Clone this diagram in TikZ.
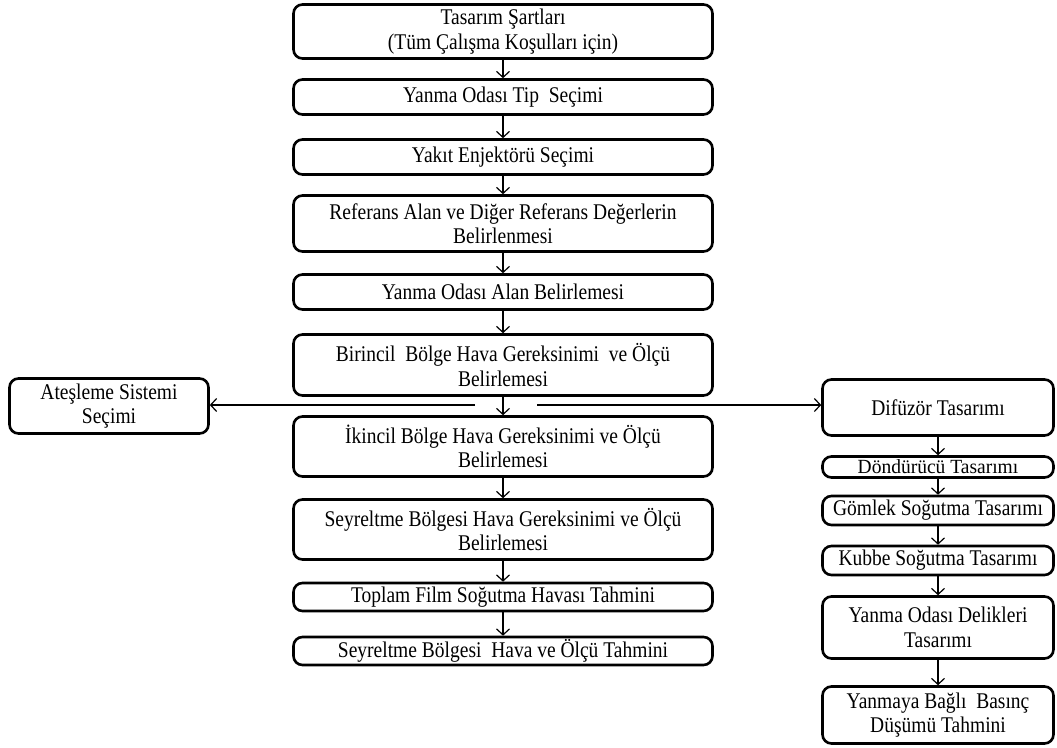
\documentclass[tikz,border=0pt]{standalone}
\usepackage{fontspec}
\setmainfont{Liberation Serif}
\usetikzlibrary{arrows.meta}
\newcommand\vs[1]{\scalebox{1}[1.15]{#1}}
\begin{document}
\begin{tikzpicture}[x=1pt,y=-1pt,
  box/.style={draw, line width=2.6pt, rounded corners=9pt, inner sep=0pt, align=center,
    font=\fontsize{19.5}{24.5}\selectfont},
  arr/.style={line width=1.2pt, -{Straight Barb[length=6pt,width=13pt,line width=1.2pt]}}]
\useasboundingbox (0,0) rectangle (1057,747);
% main column
\node[box, minimum width=419pt, minimum height=54pt] (n1) at (503,31.5) {\vs{Tasarım Şartları}\\\vs{(Tüm Çalışma Koşulları için)}};
\node[box, minimum width=419pt, minimum height=35pt] (n2) at (503,97) {\vs{Yanma Odası Tip\ \ Seçimi}};
\node[box, minimum width=419pt, minimum height=35pt] (n3) at (503,157) {\vs{Yakıt Enjektörü Seçimi}};
\node[box, minimum width=419pt, minimum height=56pt] (n4) at (503,223.5) {\vs{Referans Alan ve Diğer Referans Değerlerin}\\\vs{Belirlenmesi}};
\node[box, minimum width=419pt, minimum height=35pt] (n5) at (503,292) {\vs{Yanma Odası Alan Belirlemesi}};
\node[box, minimum width=419pt, minimum height=61pt] (n6) at (503,365) {\vs{Birincil\ \ Bölge Hava Gereksinimi\ \ ve Ölçü}\\\vs{Belirlemesi}};
\node[box, minimum width=419pt, minimum height=60pt] (n7) at (503,446.5) {\vs{İkincil Bölge Hava Gereksinimi ve Ölçü}\\\vs{Belirlemesi}};
\node[box, minimum width=419pt, minimum height=60pt] (n8) at (503,529.5) {\vs{Seyreltme Bölgesi Hava Gereksinimi ve Ölçü}\\\vs{Belirlemesi}};
\node[box, minimum width=419pt, minimum height=28pt] (n9) at (503,597) {\vs{Toplam Film Soğutma Havası Tahmini}};
\node[box, minimum width=419pt, minimum height=28pt] (n10) at (503,651) {\vs{Seyreltme Bölgesi\ \ Hava ve Ölçü Tahmini}};
% left
\node[box, minimum width=199pt, minimum height=55pt] (ign) at (109,406) {\vs{Ateşleme Sistemi}\\\vs{Seçimi}};
% right column
\node[box, minimum width=231pt, minimum height=56pt] (r1) at (938,407.5) {\vs{Difüzör Tasarımı}};
\node[box, minimum width=231pt, minimum height=21pt] (r2) at (938,467) {\scalebox{1}[1.03]{Döndürücü Tasarımı}};
\node[box, minimum width=231pt, minimum height=29pt] (r3) at (938,510.5) {\vs{Gömlek\ Soğutma Tasarımı}};
\node[box, minimum width=231pt, minimum height=29pt] (r4) at (938,560.5) {\vs{Kubbe Soğutma Tasarımı}};
\node[box, minimum width=231pt, minimum height=62pt] (r5) at (938,627.5) {\vs{Yanma Odası Delikleri}\\\vs{Tasarımı}};
\node[box, minimum width=231pt, minimum height=57pt] (r6) at (938,715) {\vs{Yanmaya Bağlı\ \ Basınç}\\\vs{Düşümü Tahmini}};
% arrows
\foreach \a/\b in {n1/n2,n2/n3,n3/n4,n4/n5,n5/n6,n6/n7,n7/n8,n8/n9,n9/n10,r1/r2,r2/r3,r3/r4,r4/r5,r5/r6}
  \draw[arr] (\a) -- (\b);
\coordinate (hl) at (475,405);
\coordinate (hr) at (537,405);
\draw[arr] (hl) -- (hl -| ign.east);
\draw[arr] (hr) -- (hr -| r1.west);
\end{tikzpicture}
\end{document}
